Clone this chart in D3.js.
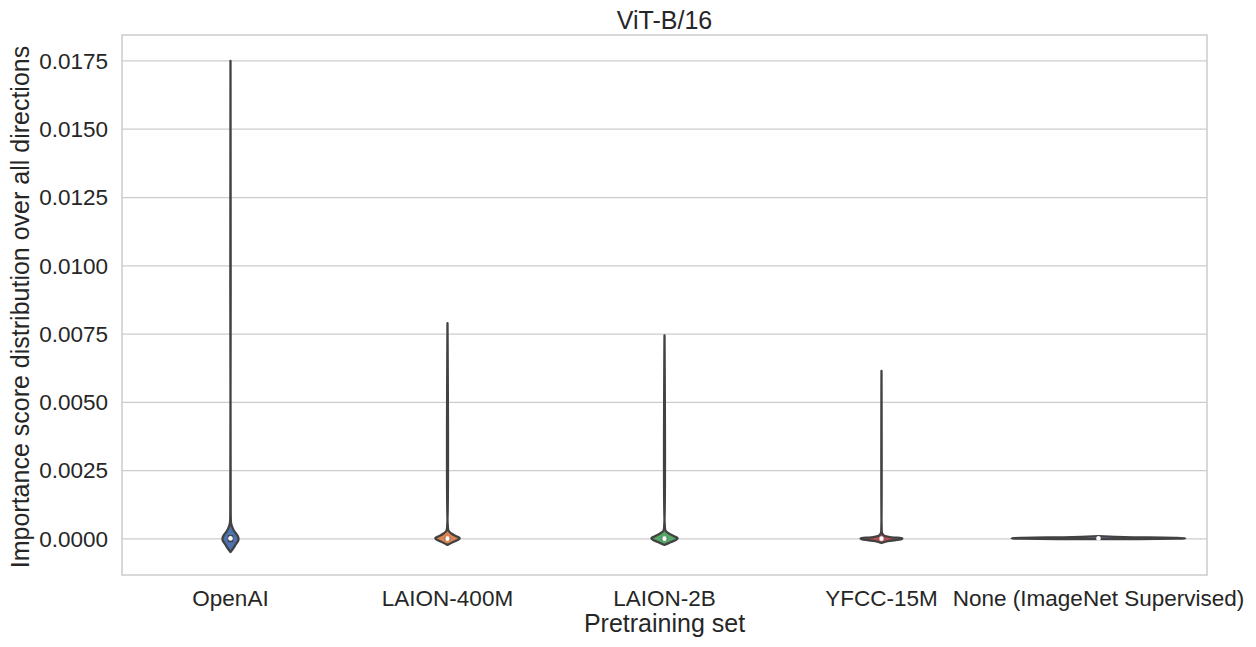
<!DOCTYPE html>
<html>
<head>
<meta charset="utf-8">
<script src="https://cdn.jsdelivr.net/npm/d3@7"></script>
<style>
  body { margin: 0; background: #fff; }
  text { font-family: "Liberation Sans", Arial, sans-serif; fill: #262626; }
</style>
</head>
<body>
<svg id="chart" width="1256" height="647"></svg>
<script>
/* violin plot, seaborn whitegrid look */

var categories = ["OpenAI", "LAION-400M", "LAION-2B", "YFCC-15M", "None (ImageNet Supervised)"];
var colors = ["#4c72b0", "#dd8452", "#55a868", "#c44e52", "#8172b3"];
var yTicks = [0, 0.0025, 0.005, 0.0075, 0.01, 0.0125, 0.015, 0.0175];

// density profiles: [value, relative half width]
var openaiProfile = [[-0.00048, 0], [-0.00035, 0.03], [-0.0002, 0.06], [-0.00005, 0.09], [0.00005, 0.09],
  [0.00015, 0.075], [0.0003, 0.04], [0.00045, 0.018], [0.0006, 0.006], [0.001, 0.002], [0.0175, 0]];
var laion400Profile = [[-0.00022, 0], [-0.00012, 0.06], [-0.00002, 0.13], [0.00003, 0.14],
  [0.0001, 0.1], [0.0002, 0.045], [0.0003, 0.012], [0.0005, 0.003], [0.0079, 0]];
var laion2bProfile = [[-0.00022, 0], [-0.00012, 0.07], [-0.00002, 0.14], [0.00003, 0.15],
  [0.0001, 0.11], [0.0002, 0.05], [0.0003, 0.012], [0.0005, 0.003], [0.00745, 0]];
var yfccProfile = [[-0.00015, 0], [-0.00008, 0.07], [-0.00001, 0.23], [0.00002, 0.24],
  [0.00006, 0.12], [0.00012, 0.03], [0.00022, 0.006], [0.0004, 0.002], [0.00615, 0]];
var noneProfile = [[-0.00001, 0], [0.00001, 0.9], [0.00002, 1.0], [0.00004, 0.9], [0.00007, 0.3], [0.0001, 0]];
var profiles = [openaiProfile, laion400Profile, laion2bProfile, yfccProfile, noneProfile];

// inner box: [q1, median, q3]
var boxStats = [[-0.00012, 0.00002, 0.00014], [-0.00005, 0.00001, 0.00007], [-0.00005, 0.00001, 0.00007],
  [-0.00003, 0.00001, 0.00004], [0.00001, 0.00002, 0.00004]];

var W = 1256, H = 647;
var margin = {left: 122, right: 49, top: 35, bottom: 72};
var svg = d3.select("#chart");

var x = d3.scaleBand().domain(categories)
    .range([margin.left, W - margin.right]);
var y = d3.scaleLinear().domain([-0.00132, 0.01845])
    .range([H - margin.bottom, margin.top]);
var half = d3.scaleLinear().domain([0, 1]).range([0, x.bandwidth() * 0.4]);

// grid
svg.append("g").selectAll("line").data(yTicks).enter().append("line")
    .attr("x1", margin.left).attr("x2", W - margin.right)
    .attr("y1", function(d){ return y(d); }).attr("y2", function(d){ return y(d); })
    .attr("stroke", "#cccccc").attr("stroke-width", 1.25);

// frame
svg.append("rect")
    .attr("x", margin.left).attr("y", margin.top)
    .attr("width", W - margin.left - margin.right)
    .attr("height", H - margin.top - margin.bottom)
    .attr("fill", "none").attr("stroke", "#cccccc").attr("stroke-width", 1.5);

// y axis
var yAxis = d3.axisLeft(y).tickValues(yTicks).tickFormat(d3.format(".4f")).tickSize(0).tickPadding(14);
var gy = svg.append("g").attr("transform", "translate(" + margin.left + ",0)").call(yAxis);
gy.select(".domain").remove();
gy.selectAll("text").style("font-size", "22.5px").attr("fill", "#262626");

// x axis
var xAxis = d3.axisBottom(x).tickSize(0).tickPadding(15);
var gx = svg.append("g").attr("transform", "translate(0," + (H - margin.bottom) + ")").call(xAxis);
gx.select(".domain").remove();
gx.selectAll("text").style("font-size", "22.5px").attr("fill", "#262626");

// violins
var area = d3.area().curve(d3.curveCatmullRom)
    .y(function(d){ return y(d[0]); });
profiles.forEach(function(p, i){
    var cx = x(categories[i]) + x.bandwidth() / 2;
    area.x0(function(d){ return cx - half(d[1]); })
        .x1(function(d){ return cx + half(d[1]); });
    svg.append("path")
        .attr("d", area(p))
        .attr("fill", colors[i])
        .attr("stroke", "#424242")
        .attr("stroke-width", 2.3)
        .attr("stroke-linejoin", "round");
    var b = boxStats[i];
    svg.append("line")
        .attr("x1", cx).attr("x2", cx)
        .attr("y1", y(b[0])).attr("y2", y(b[2]))
        .attr("stroke", "#424242").attr("stroke-width", 5.5);
    svg.append("circle")
        .attr("cx", cx).attr("cy", y(b[1])).attr("r", 2.3)
        .attr("fill", "#fff");
});

// labels
var midX = margin.left + (W - margin.left - margin.right) / 2;
svg.append("text").attr("x", midX).attr("y", 29)
    .attr("text-anchor", "middle").style("font-size", "25px").text("ViT-B/16");
svg.append("text").attr("x", midX).attr("y", 632)
    .attr("text-anchor", "middle").style("font-size", "25px").text("Pretraining set");
svg.append("text")
    .attr("transform", "translate(29," + (margin.top + (H - margin.top - margin.bottom) / 2 + 2) + ") rotate(-90)")
    .attr("text-anchor", "middle").style("font-size", "25px")
    .text("Importance score distribution over all directions");
</script>
</body>
</html>
